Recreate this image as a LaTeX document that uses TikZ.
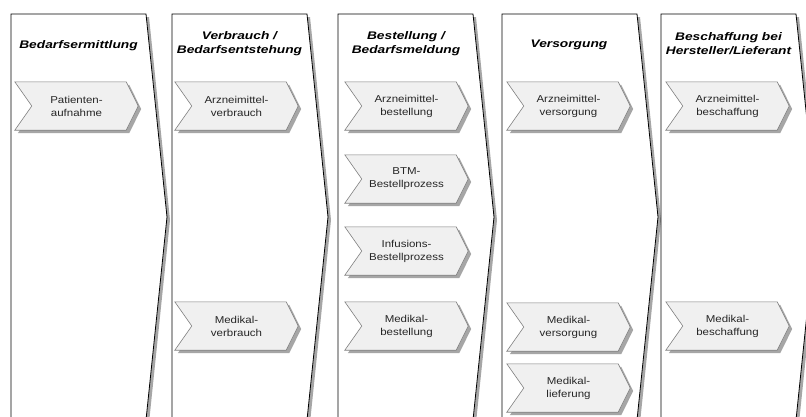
\documentclass[tikz,border=0pt]{standalone}
\usepackage{fontspec}
\setmainfont{Liberation Sans}
\newfontfamily\headfont[FakeStretch=1.25]{Liberation Sans}
\newfontfamily\procfont[FakeStretch=1.15]{Liberation Sans}
\usetikzlibrary{positioning, backgrounds}
\def\colwidth{135}
\def\coltip{21}

\begin{document}
\begin{tikzpicture}[x=1pt, y=-1pt]
    \tikzstyle{column}=[draw=black, fill=white, line width=0.8pt]
    \tikzstyle{column shadow}=[fill=black!35]
    \tikzstyle{proc}=[minimum width=123pt, minimum height=48pt, inner sep=0pt, align=center, text=black!85, font=\procfont\fontsize{10}{13}\selectfont]
    \tikzstyle{proc shape}=[draw=black!50, fill=black!6, line width=0.6pt]
    \tikzstyle{proc shadow}=[fill=black!35]
    \tikzstyle{head}=[align=center, font=\headfont\bfseries\itshape\fontsize{11}{14}\selectfont]

    \useasboundingbox (0,0) rectangle (806,416);

    % Column titles
    \node[head] (H-1) at (78.5,46) {Bedarfsermittlung};
    \node[head] (H-2) at (239.5,44) {Verbrauch /\\Bedarfsentstehung};
    \node[head] (H-3) at (406,44) {Bestellung /\\Bedarfsmeldung};
    \node[head] (H-4) at (569,45) {Versorgung};
    \node[head] (H-5) at (728.5,44) {Beschaffung bei\\Hersteller/Lieferant};

    % Process steps
    \node[proc] (pa) at (76.5,106) {Patienten-\\aufnahme};

    \node[proc] (av) at (236.5,106) {Arzneimittel-\\verbrauch};
    \node[proc] (mv) at (236.5,326) {Medikal-\\verbrauch};

    \node[proc] (ab) at (406.5,106) {Arzneimittel-\\bestellung};
    \node[proc] (btm) at (406.5,179) {BTM-\\Bestellprozess};
    \node[proc] (inf) at (406.5,251) {Infusions-\\Bestellprozess};
    \node[proc] (mb) at (406.5,326) {Medikal-\\bestellung};

    \node[proc] (avs) at (568.5,106) {Arzneimittel-\\versorgung};
    \node[proc] (mvs) at (568.5,327) {Medikal-\\versorgung};
    \node[proc] (ml) at (568.5,388) {Medikal-\\lieferung};

    \node[proc] (abs) at (727.5,106) {Arzneimittel-\\beschaffung};
    \node[proc] (mbs) at (727.5,326) {Medikal-\\beschaffung};

    \begin{scope}[on background layer]
    % Columns with shadow
    \foreach \x in {11,172,338,502,661} {
        \fill[column shadow] (\x+3,17) -- (\x+\colwidth+3,17) -- (\x+\colwidth+\coltip+3,220) -- (\x+\colwidth+3,423) -- (\x+3,423) -- cycle;
        \draw[column] (\x,14) -- (\x+\colwidth,14) -- (\x+\colwidth+\coltip,217) -- (\x+\colwidth,420) -- (\x,420) -- cycle;
    }
    % Chevron outlines behind the process texts
    \foreach \p in {pa,av,mv,ab,btm,inf,mb,avs,mvs,ml,abs,mbs}
        \foreach \o/\s in {3/proc shadow, 0/proc shape}
            \path[\s] ([shift={(\o,\o)}]\p.north west) -- ([shift={(\o-12,\o)}]\p.north east)
                -- ([shift={(\o,\o)}]\p.east) -- ([shift={(\o-12,\o)}]\p.south east)
                -- ([shift={(\o,\o)}]\p.south west) -- ([shift={(\o+17,\o)}]\p.west) -- cycle;
    \end{scope}
\end{tikzpicture}
\end{document}
